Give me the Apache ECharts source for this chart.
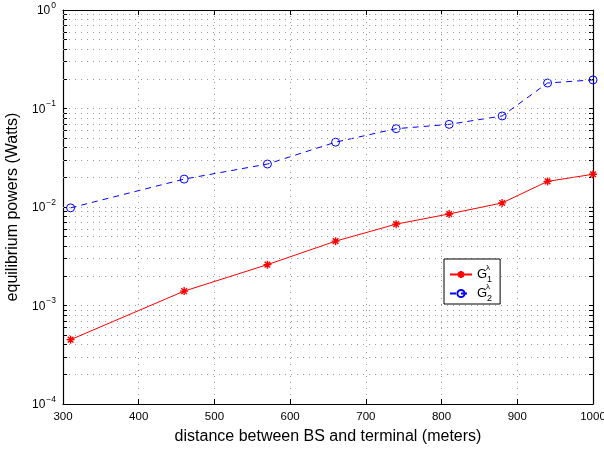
<!DOCTYPE html>
<html>
<head>
<meta charset="utf-8">
<script src="https://cdn.jsdelivr.net/npm/echarts@6/dist/echarts.min.js"></script>
<style>
  html, body { margin: 0; padding: 0; background: #fff; }
  #chart { width: 604px; height: 451px; }
</style>
</head>
<body>
<div id="chart"></div>
<script>
// distance between base station and terminal (meters)
const distances = [310, 460, 570, 660, 740, 810, 880, 940, 1000];
// equilibrium powers (Watts)
const powerG1 = [0.00045, 0.0014, 0.0026, 0.0045, 0.0067, 0.0085, 0.011, 0.0182, 0.0215];
const powerG2 = [0.0098, 0.0192, 0.0273, 0.0455, 0.0624, 0.069, 0.084, 0.1815, 0.195];
// decades shown on the log axis
const decadeExponents = [-4, -3, -2, -1, 0];
const xTicks = [300, 400, 500, 600, 700, 800, 900, 1000];
// legend entries: base letter, subscript, superscript
const legendNames = ['G1', 'G2'];
const legendSubscripts = ['1', '2'];
const legendSuperscript = '\u03bb';

const FONT = 'Liberation Sans, Arial, Helvetica, sans-serif';

// minor gridline values: 2..9 within each decade
const minorValues = [];
for (let d = -4; d < 0; d++) {
  for (let m = 2; m <= 9; m++) minorValues.push(+(m * Math.pow(10, d)).toPrecision(3));
}
const majorValues = decadeExponents.map(e => Math.pow(10, e));

const dotted = { type: [1, 5], color: '#9a9a9a', width: 1 };
const asterisk = 'path://M0,5L10,5M5,0L5,10M1.5,1.5L8.5,8.5M8.5,1.5L1.5,8.5';

const chart = echarts.init(document.getElementById('chart'), null, { renderer: 'canvas' });

const boxLine = { show: true, onZero: false, lineStyle: { color: '#000', width: 1.2 } };
const tickStyle = { show: true, inside: true, length: 5, lineStyle: { color: '#000' } };

// legend box geometry
const LEG_LEFT = 444, LEG_TOP = 259, LEG_PAD_TOP = 8, LEG_ITEM_H = 15, LEG_GAP = 4;
const SCRIPT_X = 486;

chart.setOption({
  animation: false,
  backgroundColor: '#fff',
  textStyle: { fontFamily: FONT },
  grid: { left: 63, right: 11, top: 10, bottom: 47, containLabel: false, outerBoundsMode: 'none' },
  xAxis: [{
    type: 'value',
    min: 300,
    max: 1000,
    interval: 100,
    position: 'bottom',
    name: 'distance between BS and terminal (meters)',
    nameLocation: 'middle',
    nameGap: 25,
    nameTextStyle: { fontSize: 16, color: '#000', fontFamily: FONT },
    axisLine: boxLine,
    axisTick: tickStyle,
    axisLabel: { fontSize: 11.5, color: '#000', margin: 7, fontFamily: FONT,
      formatter: v => xTicks.includes(v) ? String(v) : '' },
    splitLine: { show: true, lineStyle: dotted },
  }, {
    type: 'value',
    min: 300,
    max: 1000,
    interval: 100,
    position: 'top',
    axisLine: boxLine,
    axisTick: tickStyle,
    axisLabel: { show: false },
    splitLine: { show: false },
  }],
  yAxis: [{
    type: 'log',
    logBase: 10,
    min: 1e-4,
    max: 1,
    position: 'left',
    name: 'equilibrium powers (Watts)',
    nameLocation: 'middle',
    nameGap: 33,
    nameTextStyle: { fontSize: 16, color: '#000', fontFamily: FONT },
    axisLine: boxLine,
    axisTick: Object.assign({}, tickStyle, { customValues: majorValues.concat(minorValues), length: 4 }),
    axisLabel: {
      color: '#000',
      margin: 7,
      formatter: v => {
        const e = Math.round(Math.log10(v));
        return '{b|10}{e|' + (e < 0 ? '\u2212' + (-e) : e) + '}';
      },
      rich: {
        b: { fontSize: 12, color: '#000', fontFamily: FONT, verticalAlign: 'bottom', lineHeight: 14 },
        e: { fontSize: 8.5, color: '#000', fontFamily: FONT, verticalAlign: 'bottom', lineHeight: 14, padding: [0, 0, 7, 1] },
      },
    },
    splitLine: { show: true, lineStyle: dotted },
    minorTick: { show: false },
  }, {
    type: 'log',
    logBase: 10,
    min: 1e-4,
    max: 1,
    position: 'right',
    axisLine: boxLine,
    axisTick: Object.assign({}, tickStyle, { customValues: majorValues.concat(minorValues), length: 4 }),
    axisLabel: { show: false },
    splitLine: { show: false },
    minorTick: { show: false },
  }],
  legend: {
    left: LEG_LEFT,
    top: LEG_TOP,
    orient: 'vertical',
    backgroundColor: '#fff',
    borderColor: '#000',
    borderWidth: 1,
    borderRadius: 0,
    padding: [LEG_PAD_TOP, 7, 3, 5],
    itemGap: LEG_GAP,
    itemWidth: 22,
    itemHeight: 9,
    selectedMode: false,
    formatter: () => 'G',
    textStyle: { color: '#000', fontSize: 13, fontFamily: FONT, lineHeight: LEG_ITEM_H, padding: [0, 6, 0, 0] },
    data: legendNames,
  },
  // subscripts and superscripts beside each legend "G"
  graphic: legendSubscripts.flatMap((sub, i) => {
    const cy = LEG_TOP + LEG_PAD_TOP + LEG_ITEM_H / 2 + i * (LEG_ITEM_H + LEG_GAP);
    return [{
      type: 'text', x: SCRIPT_X + 1, y: cy + 5, z: 100,
      style: { text: sub, fontSize: 9, fill: '#000', fontFamily: FONT, align: 'left', verticalAlign: 'middle' },
    }, {
      type: 'text', x: SCRIPT_X, y: cy - 7, z: 100,
      style: { text: legendSuperscript, fontSize: 8, fill: '#000', fontFamily: FONT, align: 'left', verticalAlign: 'middle' },
    }];
  }),
  series: [{
    name: 'G1',
    type: 'line',
    data: distances.map((d, i) => [d, powerG1[i]]),
    symbol: asterisk,
    symbolSize: 8,
    symbolKeepAspect: true,
    itemStyle: { color: '#ff0000', borderColor: '#ff0000', borderWidth: 1.4 },
    lineStyle: { color: '#ff0000', width: 1 },
    markLine: {
      silent: true,
      symbol: ['none', 'none'],
      label: { show: false },
      lineStyle: dotted,
      emphasis: { disabled: true },
      data: minorValues.map(v => ({ yAxis: v })),
    },
    z: 3,
  }, {
    name: 'G2',
    type: 'line',
    data: distances.map((d, i) => [d, powerG2[i]]),
    symbol: 'circle',
    symbolSize: 8,
    itemStyle: { color: 'rgba(255,255,255,0)', borderColor: '#0000ff', borderWidth: 1 },
    lineStyle: { color: '#0000ff', width: 1, type: [6, 5] },
    z: 3,
  }],
});
</script>
</body>
</html>
